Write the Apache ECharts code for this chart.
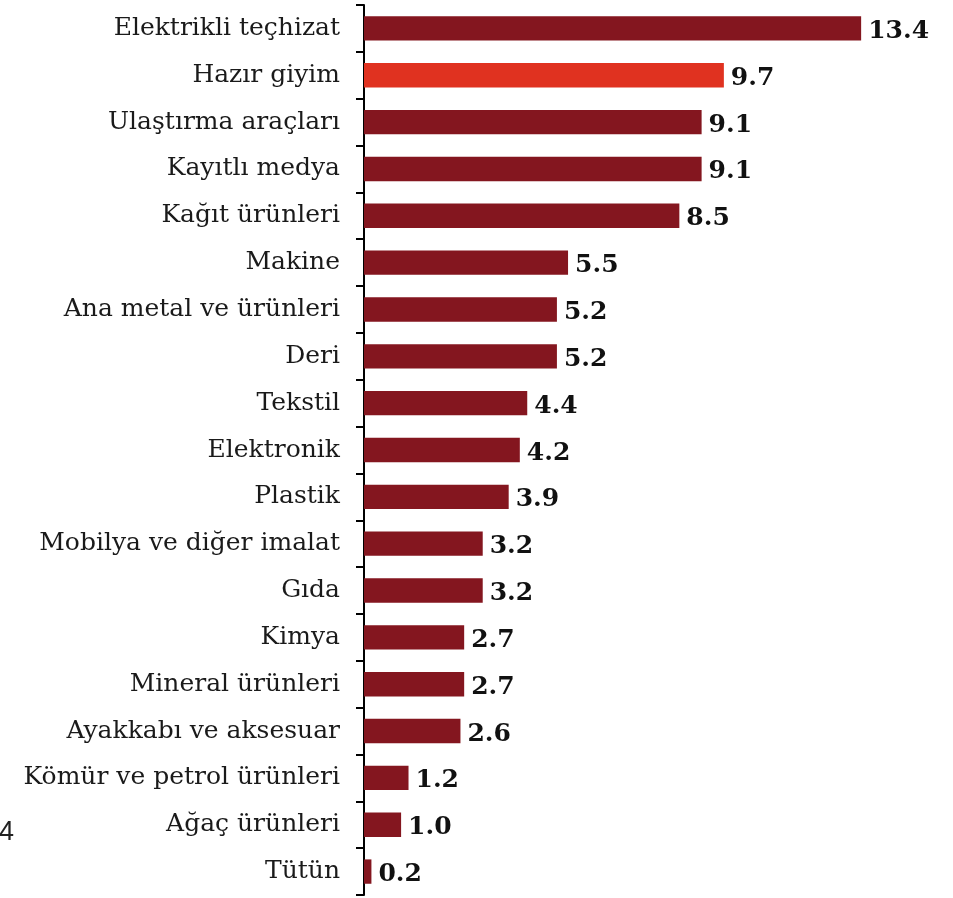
<!DOCTYPE html>
<html><head><meta charset="utf-8">
<script src="https://cdn.jsdelivr.net/npm/echarts@6/dist/echarts.min.js"></script>
<style>html,body{margin:0;padding:0;background:#fff}#c{width:953px;height:898px}</style>
</head><body><div id="c"></div>
<script>
const categories = ["Elektrikli teçhizat","Hazır giyim","Ulaştırma araçları","Kayıtlı medya","Kağıt ürünleri","Makine","Ana metal ve ürünleri","Deri","Tekstil","Elektronik","Plastik","Mobilya ve diğer imalat","Gıda","Kimya","Mineral ürünleri","Ayakkabı ve aksesuar","Kömür ve petrol ürünleri","Ağaç ürünleri","Tütün"];
const values = [13.4,9.7,9.1,9.1,8.5,5.5,5.2,5.2,4.4,4.2,3.9,3.2,3.2,2.7,2.7,2.6,1.2,1.0,0.2];
const highlight = "Hazır giyim";
const chart = echarts.init(document.getElementById('c'));
chart.setOption({
  animation:false,
  grid:{left:364,right:32.5,top:5,bottom:3,containLabel:false},
  xAxis:{type:'value',min:0,max:15,show:false},
  yAxis:{type:'category',data:categories,inverse:true,
    axisLine:{show:true,lineStyle:{color:'#000',width:2}},
    axisTick:{show:true,alignWithLabel:false,length:8,lineStyle:{color:'#000',width:2}},
    axisLabel:{margin:24,color:'#1a1a1a',fontFamily:'DejaVu Serif',fontSize:25}},
  series:[{type:'bar',barWidth:'52%',
    data:values.map((v,i)=>({value:v,itemStyle:{color:categories[i]===highlight?'#E03220':'#84161F'}})),
    label:{show:true,position:'right',distance:7,offset:[0,3],color:'#111',fontFamily:'DejaVu Serif',fontWeight:'bold',fontSize:25,
      formatter:p=>p.value.toFixed(1)}}],
  graphic:[{type:'text',x:-1,y:833,style:{text:'4',font:'27px "Liberation Sans"',fill:'#222',verticalAlign:'middle'}}]
});
</script></body></html>
